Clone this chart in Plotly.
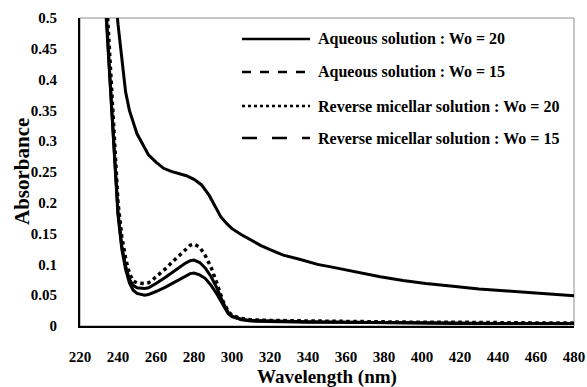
import plotly.graph_objects as go

# ---------------- data ----------------
legend_names = [
    "Aqueous solution : Wo = 20",
    "Aqueous solution : Wo = 15",
    "Reverse micellar solution : Wo = 20",
    "Reverse micellar solution : Wo = 15",
]

wl_upper = [236, 238, 240, 242, 244, 246, 248, 250, 253, 256, 260, 264, 268, 272, 276,
            280, 284, 288, 291, 294, 297, 300, 305, 310, 315, 320, 327, 336, 345, 352,
            365, 378, 390, 402, 415, 430, 445, 458, 470, 480]
abs_upper = [0.65, 0.56, 0.49, 0.43, 0.38, 0.35, 0.33, 0.312, 0.295, 0.278, 0.266, 0.256,
             0.251, 0.248, 0.244, 0.238, 0.229, 0.212, 0.195, 0.178, 0.167, 0.158, 0.148,
             0.139, 0.131, 0.124, 0.115, 0.108, 0.100, 0.096, 0.088, 0.080, 0.074, 0.069,
             0.065, 0.060, 0.057, 0.054, 0.051, 0.049]

wl_low = [230, 232, 234, 236, 238, 240, 242, 244, 246, 248, 250, 252, 254, 256, 258, 260,
          265, 270, 275, 278, 280, 283, 286, 289, 292, 295, 298, 300, 305, 310, 320, 340,
          360, 380, 400, 420, 440, 460, 480]
abs_dotted = [0.75, 0.62, 0.53, 0.42, 0.30, 0.20, 0.145, 0.11, 0.085, 0.073, 0.070, 0.069,
              0.069, 0.070, 0.074, 0.080, 0.093, 0.108, 0.123, 0.131, 0.133, 0.128, 0.114,
              0.095, 0.070, 0.042, 0.024, 0.017, 0.012, 0.010, 0.009, 0.008, 0.007, 0.007,
              0.006, 0.006, 0.005, 0.005, 0.005]
abs_dash = [0.72, 0.60, 0.50, 0.39, 0.28, 0.185, 0.13, 0.097, 0.076, 0.066, 0.062, 0.061,
            0.061, 0.062, 0.065, 0.069, 0.079, 0.090, 0.101, 0.106, 0.107, 0.103, 0.094,
            0.080, 0.062, 0.040, 0.022, 0.016, 0.011, 0.009, 0.008, 0.007, 0.006, 0.006,
            0.005, 0.005, 0.004, 0.004, 0.004]
abs_longdash = [0.72, 0.59, 0.49, 0.38, 0.27, 0.18, 0.125, 0.092, 0.070, 0.058, 0.053, 0.051,
                0.050, 0.051, 0.053, 0.056, 0.063, 0.072, 0.081, 0.085, 0.086, 0.083, 0.077,
                0.066, 0.052, 0.036, 0.020, 0.015, 0.010, 0.008, 0.007, 0.006, 0.006, 0.005,
                0.005, 0.004, 0.004, 0.004, 0.004]

x_ticks = [220, 240, 260, 280, 300, 320, 340, 360, 380, 400, 420, 440, 460, 480]
y_ticks = [0, 0.05, 0.1, 0.15, 0.2, 0.25, 0.3, 0.35, 0.4, 0.45, 0.5]
y_ticktext = ["0", "0.05", "0.1", "0.15", "0.2", "0.25", "0.3", "0.35", "0.4", "0.45", "0.5"]
x_title = "Wavelength (nm)"
y_title = "Absorbance"

# ---------------- figure ----------------
FONT = "Liberation Serif, Times New Roman, serif"
W, H = 587, 387
ML, MR, MT, MB = 80, 13, 18, 61
pw, ph = W - ML - MR, H - MT - MB

fig = go.Figure()
series = [
    (wl_upper, abs_upper, "solid", 3),
    (wl_low, abs_dash, "solid", 3),
    (wl_low, abs_dotted, "dot", 3.5),
    (wl_low, abs_longdash, "solid", 3),
]
for (xs, ys, dash, w), name in zip(series, legend_names):
    fig.add_trace(go.Scatter(x=xs, y=ys, mode="lines", name=name, showlegend=False,
                             line=dict(color="black", width=w, dash=dash)))

# manual legend (long line samples like the original)
legend_dash = ["solid", "dash", "dot", "longdash"]
legend_y_px = [39, 72, 106, 138]
shapes = [dict(type="rect", xref="paper", yref="paper", x0=0, x1=1, y0=0, y1=1,
               line=dict(color="#8c8c8c", width=1), layer="below")]
annotations = []
for name, dash, ypx in zip(legend_names, legend_dash, legend_y_px):
    yp = (H - MB - ypx) / ph
    shapes.append(dict(type="line", xref="paper", yref="paper",
                       x0=(242 - ML) / pw, x1=(310 - ML) / pw, y0=yp, y1=yp,
                       line=dict(color="black", width=2.5, dash=dash)))
    annotations.append(dict(xref="paper", yref="paper", x=(316 - ML) / pw, y=yp,
                            xanchor="left", yanchor="middle", showarrow=False,
                            text="<b>" + name + "</b>",
                            font=dict(family=FONT, size=16, color="black")))

# axis titles
annotations.append(dict(xref="paper", yref="paper", x=0.5, y=-(377 - (H - MB)) / ph,
                        xanchor="center", yanchor="middle", showarrow=False,
                        text="<b>" + x_title + "</b>",
                        font=dict(family=FONT, size=19, color="black")))
annotations.append(dict(xref="paper", yref="paper", x=-(ML - 22) / pw, y=0.5,
                        xanchor="center", yanchor="middle", showarrow=False, textangle=-90,
                        text="<b>" + y_title + "</b>",
                        font=dict(family=FONT, size=21, color="black")))

fig.update_layout(
    width=W, height=H,
    margin=dict(l=ML, r=MR, t=MT, b=MB, autoexpand=False),
    paper_bgcolor="white", plot_bgcolor="white",
    font=dict(family=FONT, color="black"),
    shapes=shapes, annotations=annotations,
    showlegend=False,
)
fig.update_xaxes(
    range=[220, 480], tickvals=x_ticks, ticktext=["<b>%d</b>" % v for v in x_ticks],
    ticks="", showgrid=False, zeroline=False, automargin=False,
    showline=True, linecolor="black", linewidth=2,
    tickfont=dict(family=FONT, size=15, color="black"), ticklabelstandoff=16,
)
fig.update_yaxes(
    range=[0, 0.5], tickvals=y_ticks, ticktext=["<b>" + t + "</b>" for t in y_ticktext],
    ticks="", showgrid=False, zeroline=False, automargin=False,
    showline=True, linecolor="black", linewidth=2,
    tickfont=dict(family=FONT, size=15, color="black"), ticklabelstandoff=18,
)

fig.write_html("out.html", config={"displayModeBar": False},
               post_script="document.body.style.margin='0';")
